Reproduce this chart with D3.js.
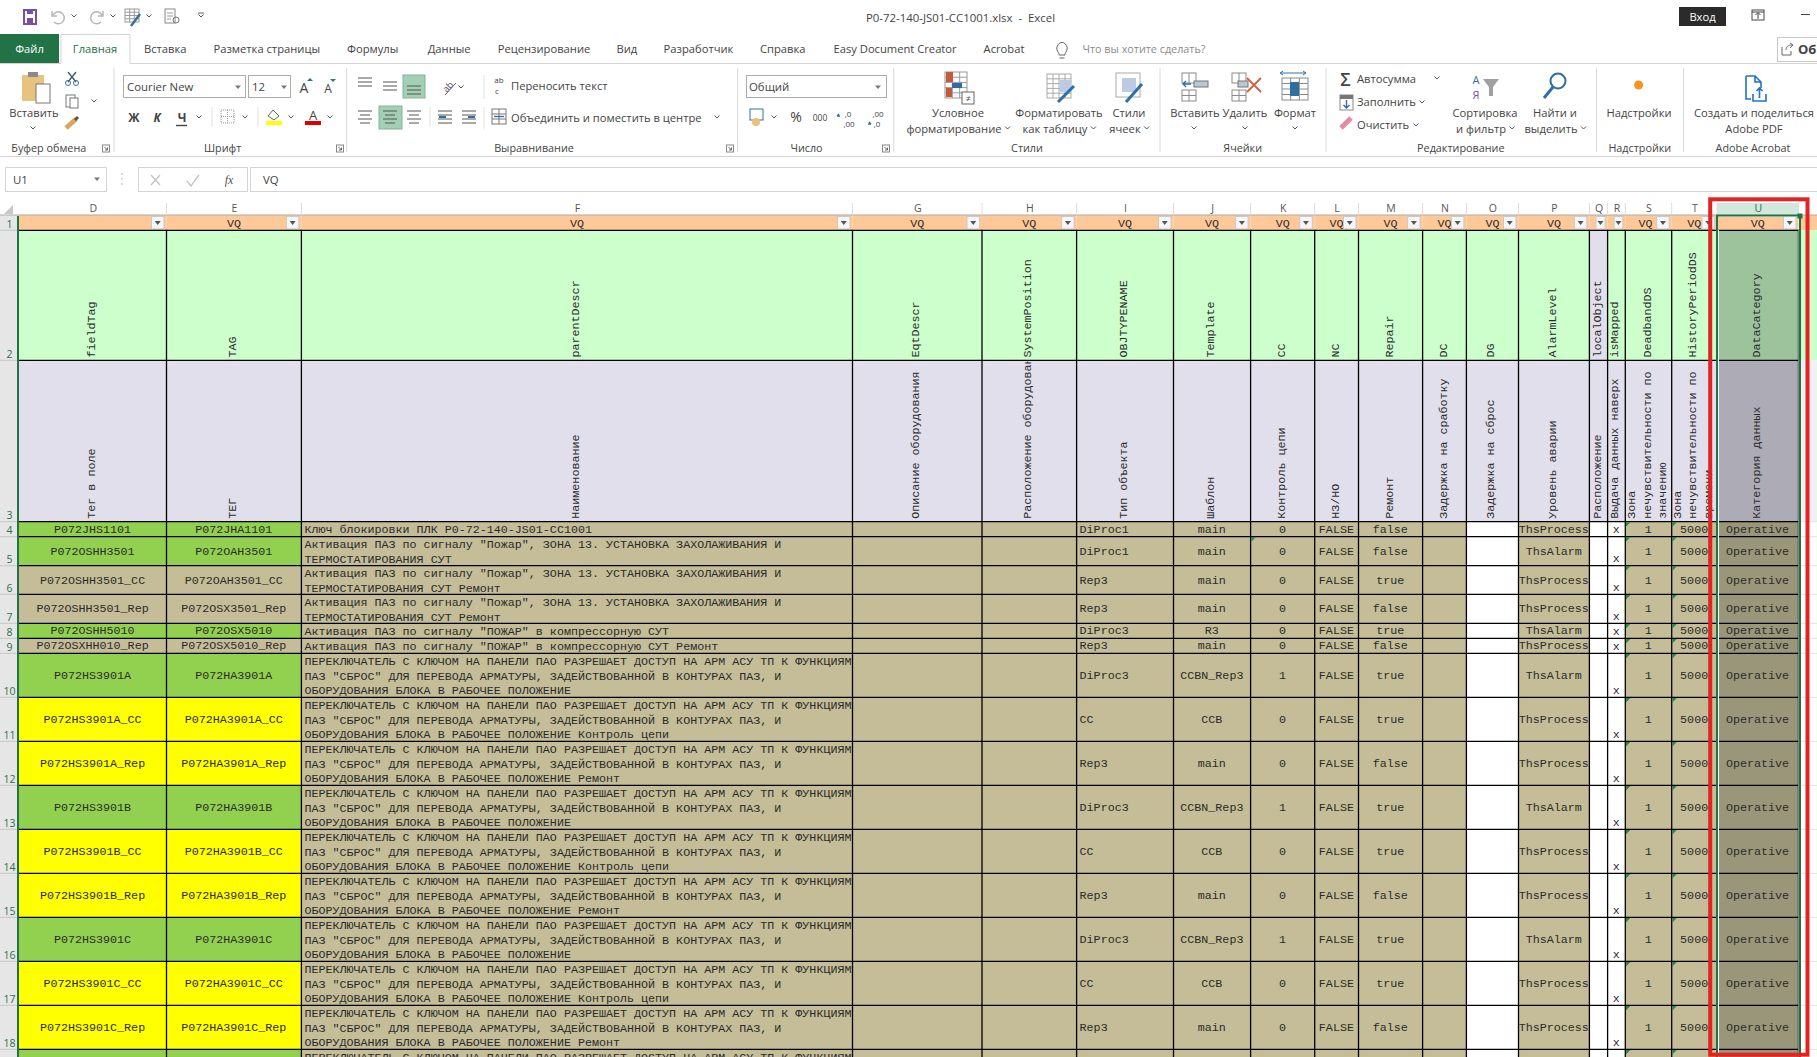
<!DOCTYPE html>
<html>
<head>
<meta charset="UTF-8">
<title>P0-72-140-JS01-CC1001.xlsx - Excel</title>
<script src="https://cdnjs.cloudflare.com/ajax/libs/d3/7.8.5/d3.min.js"></script>
<style>
body { margin: 0; background: #fff; overflow: hidden; }
svg { display: block; }
.ui { font-family: "Open Sans", sans-serif; font-size: 11.2px; fill: #444; white-space: pre; }
.mono { font-family: "Liberation Mono", monospace; font-size: 11.7px; fill: #2b2b2b; }
</style>
</head>
<body>
<script>
// sheet content
var columns = ["D","E","F","G","H","I","J","K","L","M","N","O","P","Q","R","S","T","U"];
var rowNumbers = [1,2,3,4,5,6,7,8,9,10,11,12,13,14,15,16,17,18,19];
var dataRows = [4,5,6,7,8,9,10,11,12,13,14,15,16,17,18,19];

var filterHeads = ["","VQ","VQ","VQ","VQ","VQ","VQ","VQ","VQ","VQ","VQ","VQ","VQ","","","VQ","VQ","VQ"];
var fieldNames = ["fieldTag","TAG","parentDescr","EqtDescr","SystemPosition","OBJTYPENAME","Template","CC","NC","Repair","DC","DG","AlarmLevel","localObject","isMapped","DeadbandDS","HistoryPeriodDS","DataCategory"];
var ruNames = ["Тег в поле","ТЕГ","Наименование","Описание оборудования","Расположение оборудования","Тип объекта","Шаблон","Контроль цепи","НЗ/НО","Ремонт","Задержка на сработку","Задержка на сброс","Уровень аварии","Расположение","Выдача данных наверх","Зона\nнечувствительности по\nзначению","Зона\nнечувствительности по\nвремени","Категория данных"];

var fireLine = 'Активация ПАЗ по сигналу "Пожар", ЗОНА 13. УСТАНОВКА ЗАХОЛАЖИВАНИЯ И\nТЕРМОСТАТИРОВАНИЯ СУТ';
var roomLine = 'Активация ПАЗ по сигналу "ПОЖАР" в компрессорную СУТ';
var keyFirst = 'ПЕРЕКЛЮЧАТЕЛЬ С КЛЮЧОМ НА ПАНЕЛИ ПАО РАЗРЕШАЕТ ДОСТУП НА АРМ АСУ ТП К ФУНКЦИЯМ';
var keyLine = keyFirst + '\nПАЗ "СБРОС" ДЛЯ ПЕРЕВОДА АРМАТУРЫ, ЗАДЕЙСТВОВАННОЙ В КОНТУРАХ ПАЗ, И\nОБОРУДОВАНИЯ БЛОКА В РАБОЧЕЕ ПОЛОЖЕНИЕ';

var fieldTag = ["P072JHS1101","P072OSHH3501","P072OSHH3501_CC","P072OSHH3501_Rep","P072OSHH5010","P072OSXHH010_Rep","P072HS3901A","P072HS3901A_CC","P072HS3901A_Rep","P072HS3901B","P072HS3901B_CC","P072HS3901B_Rep","P072HS3901C","P072HS3901C_CC","P072HS3901C_Rep",""];
var tagName = ["P072JHA1101","P072OAH3501","P072OAH3501_CC","P072OSX3501_Rep","P072OSX5010","P072OSX5010_Rep","P072HA3901A","P072HA3901A_CC","P072HA3901A_Rep","P072HA3901B","P072HA3901B_CC","P072HA3901B_Rep","P072HA3901C","P072HA3901C_CC","P072HA3901C_Rep",""];
var tagState = ["main","main","none","none","main","none","main","sub","sub","main","sub","sub","main","sub","sub","main"];
var parentDescr = ["Ключ блокировки ПЛК P0-72-140-JS01-CC1001", fireLine, fireLine + " Ремонт", fireLine + " Ремонт", roomLine, roomLine + " Ремонт",
  keyLine, keyLine + " Контроль цепи", keyLine + " Ремонт",
  keyLine, keyLine + " Контроль цепи", keyLine + " Ремонт",
  keyLine, keyLine + " Контроль цепи", keyLine + " Ремонт", keyFirst];
var objType = ["DiProc1","DiProc1","Rep3","Rep3","DiProc3","Rep3","DiProc3","CC","Rep3","DiProc3","CC","Rep3","DiProc3","CC","Rep3",""];
var template = ["main","main","main","main","R3","main","CCBN_Rep3","CCB","main","CCBN_Rep3","CCB","main","CCBN_Rep3","CCB","main",""];
var ccValues = ["0","0","0","0","0","0","1","0","0","1","0","0","1","0","0",""];
var ncValues = ["FALSE","FALSE","FALSE","FALSE","FALSE","FALSE","FALSE","FALSE","FALSE","FALSE","FALSE","FALSE","FALSE","FALSE","FALSE",""];
var repair = ["false","false","true","false","true","false","true","true","false","true","true","false","true","true","false",""];
var alarmLevel = ["ThsProcess","ThsAlarm","ThsProcess","ThsProcess","ThsAlarm","ThsProcess","ThsAlarm","ThsProcess","ThsProcess","ThsAlarm","ThsProcess","ThsProcess","ThsAlarm","ThsProcess","ThsProcess",""];
var isMapped = ["x","x","x","x","x","x","x","x","x","x","x","x","x","x","x",""];
var deadband = ["1","1","1","1","1","1","1","1","1","1","1","1","1","1","1",""];
var historyPeriod = ["5000","5000","5000","5000","5000","5000","5000","5000","5000","5000","5000","5000","5000","5000","5000",""];
var dataCategory = ["Operative","Operative","Operative","Operative","Operative","Operative","Operative","Operative","Operative","Operative","Operative","Operative","Operative","Operative","Operative",""];

var cellText = { D: fieldTag, E: tagName, F: parentDescr, I: objType, J: template, K: ccValues, L: ncValues, M: repair, P: alarmLevel, R: isMapped, S: deadband, T: historyPeriod, U: dataCategory };

// ribbon content
var tabNames = ["Вставка","Разметка страницы","Формулы","Данные","Рецензирование","Вид","Разработчик","Справка","Easy Document Creator","Acrobat"];
var groupNames = ["Буфер обмена","Шрифт","Выравнивание","Число","Стили","Ячейки","Редактирование","Надстройки","Adobe Acrobat"];

// layout
var colEdges = [19,166.5,301.4,852.5,982,1076.6,1173.5,1250.6,1314.7,1358.5,1422.6,1466.4,1518.5,1589.4,1607.6,1625.3,1671.7,1717,1798.5];
var rowEdges = [215,230.3,360.3,521.7,536.7,565.7,594.3,623.3,638.3,653.3,697.3,741.3,785.3,829.3,873.3,917.3,961.3,1005.3,1049.3,1093.3];
var tabX = [144,213.5,347,427.7,497.7,616.5,663.6,760,833.5,983.6];
var groupX = [48.8,222.7,534,806.5,1027,1242.7,1460.8,1639.8,1753];
var groupDividers = [114,346.7,737.7,893.8,1160,1326,1596.5,1683.6];
var launchers = [106,340,730,886];

var colLeft = d3.scaleOrdinal(columns, colEdges);
var colRight = d3.scaleOrdinal(columns, colEdges.slice(1));
var rowTop = d3.scaleOrdinal(rowNumbers, rowEdges);
var rowBottom = d3.scaleOrdinal(rowNumbers, rowEdges.slice(1));
var tabLeft = d3.scaleOrdinal(tabNames, tabX);
var groupCenter = d3.scaleOrdinal(groupNames, groupX);
var tagFill = d3.scaleOrdinal(["main","sub","none"], ["#92d050","#ffff00","#c4bd97"]);

var svg = d3.select("body").append("svg").attr("width", 1817).attr("height", 1057);
var defs = svg.append("defs");

function cellFill(col, row) {
  if (col === "U") return row === 1 ? "#ffc898" : row === 2 ? "#9dc39d" : row === 3 ? "#adabb6" : "#9a9679";
  if (row === 1) return "#ffc898";
  if (row === 2) return col === "Q" ? "#e2dfec" : "#ccffcc";
  if (row === 3) return "#e2dfec";
  if (col === "D" || col === "E") return tagFill(tagState[row - 4]);
  if (col === "O" || col === "Q" || col === "R") return "#ffffff";
  return "#c4bd97";
}

// grid ------------------------------------------------------------------
var sheet = svg.append("g");

// the empty column to the right of the frame
sheet.append("rect").attr("x", 1800).attr("y", rowTop(1)).attr("width", 17).attr("height", rowBottom(1) - rowTop(1)).attr("fill", "#ffc898");
sheet.append("rect").attr("x", 1800).attr("y", rowTop(2)).attr("width", 17).attr("height", rowBottom(2) - rowTop(2)).attr("fill", "#ccffcc");
sheet.append("rect").attr("x", 1800).attr("y", rowTop(3)).attr("width", 17).attr("height", rowBottom(3) - rowTop(3)).attr("fill", "#f3eff4");
sheet.selectAll("line.far").data(rowNumbers.slice(3)).enter().append("line").attr("class", "far")
  .attr("x1", 1800).attr("x2", 1817).attr("y1", rowTop).attr("y2", rowTop).attr("stroke", "#e6e0e0");

var cells = d3.cross(columns, rowNumbers).map(function(d) { return { col: d[0], row: d[1] }; });
sheet.selectAll("rect.cell").data(cells).enter().append("rect").attr("class", "cell")
  .attr("x", function(d) { return colLeft(d.col); })
  .attr("y", function(d) { return rowTop(d.row); })
  .attr("width", function(d) { return colRight(d.col) - colLeft(d.col); })
  .attr("height", function(d) { return rowBottom(d.row) - rowTop(d.row); })
  .attr("fill", function(d) { return cellFill(d.col, d.row); });

// column and row heading strips
sheet.append("rect").attr("x", 0).attr("y", 215).attr("width", 19).attr("height", 842).attr("fill", "#e6e6e6");
sheet.append("line").attr("x1", 0).attr("x2", 1817).attr("y1", 215).attr("y2", 215).attr("stroke", "#ababab");
sheet.append("path").attr("d", "M4 214L13 214L13 205Z").attr("fill", "#c8c8c8");
sheet.append("rect").attr("x", colLeft("U")).attr("y", 203).attr("width", colRight("U") - colLeft("U")).attr("height", 12).attr("fill", "#d2e8dc");

sheet.selectAll("line.colsep").data(columns).enter().append("line").attr("class", "colsep")
  .attr("x1", colRight).attr("x2", colRight).attr("y1", 203).attr("y2", 215).attr("stroke", "#dcdcdc");
sheet.selectAll("text.colhead").data(columns).enter().append("text").attr("class", "ui colhead")
  .attr("x", function(d) { return (colLeft(d) + colRight(d)) / 2 + 0.5; }).attr("y", 212)
  .attr("text-anchor", "middle").style("font-size", "10.5px")
  .style("fill", function(d) { return d === "U" ? "#217346" : "#555"; }).text(function(d) { return d; });

var shownRows = rowNumbers.filter(function(d) { return rowBottom(d) < 1057; });
sheet.selectAll("line.rowsep").data(shownRows).enter().append("line").attr("class", "rowsep")
  .attr("x1", 0).attr("x2", 19).attr("y1", rowBottom).attr("y2", rowBottom).attr("stroke", "#c6c6c6");
sheet.selectAll("text.rownum").data(shownRows).enter().append("text").attr("class", "ui rownum")
  .attr("x", 9.5).attr("y", function(d) { return rowBottom(d) - 2.5; })
  .attr("text-anchor", "middle").style("font-size", "10.5px").style("fill", "#2f6e4e").text(function(d) { return d; });

// filter row
sheet.selectAll("text.vq").data(columns).enter().append("text").attr("class", "mono vq")
  .attr("x", function(d) { return (colLeft(d) + colRight(d)) / 2 - (d === "S" ? 3 : 0); }).attr("y", 226.5)
  .attr("text-anchor", "middle").text(function(d, i) { return filterHeads[i]; });

function buttonWidth(col) { return Math.min(12.5, colRight(col) - colLeft(col) - 9); }
var filterBtn = sheet.selectAll("g.btn").data(columns).enter().append("g").attr("class", "btn");
filterBtn.append("rect")
  .attr("x", function(d) { return colRight(d) - 2.5 - buttonWidth(d); }).attr("y", 216.5)
  .attr("width", buttonWidth).attr("height", 12.5).attr("fill", "#f6f6f6").attr("stroke", "#c9c9c9");
filterBtn.append("path").attr("fill", "#555")
  .attr("d", function(d) { var c = colRight(d) - 2.5 - buttonWidth(d) / 2; return "M" + (c - 3) + " 221L" + (c + 3) + " 221L" + c + " 225Z"; });

// black cell borders
var lines = sheet.append("g").attr("stroke", "#000").attr("stroke-width", 1.3);
lines.selectAll("line.v").data(columns).enter().append("line").attr("class", "v")
  .attr("x1", colRight).attr("x2", colRight).attr("y1", rowTop(2) - 0.6).attr("y2", 1057);
lines.selectAll("line.h").data(rowNumbers.slice(1)).enter().append("line").attr("class", "h")
  .attr("x1", colLeft("D")).attr("x2", colRight("U")).attr("y1", rowTop).attr("y2", rowTop);

// rotated headers, clipped to their cell
function rotatedHeads(row, names, baseOffset) {
  var g = sheet.append("g");
  columns.forEach(function(col, i) {
    var id = "clip-" + col + row;
    defs.append("clipPath").attr("id", id).append("rect")
      .attr("x", colLeft(col)).attr("y", rowTop(row) + 1)
      .attr("width", colRight(col) - colLeft(col)).attr("height", rowBottom(row) - rowTop(row) - 1);
    var parts = names[i].split("\n");
    var cx = (colLeft(col) + colRight(col)) / 2 - 1;
    var cg = g.append("g").attr("clip-path", "url(#" + id + ")");
    cg.selectAll("text").data(parts).enter().append("text").attr("class", "mono")
      .attr("dominant-baseline", "central")
      .attr("transform", function(d, j) {
        return "translate(" + (cx + (j - (parts.length - 1) / 2) * 15.4) + "," + (rowBottom(row) - baseOffset) + ") rotate(-90)";
      })
      .text(function(d) { return d; });
  });
}
rotatedHeads(2, fieldNames, 2.8);
rotatedHeads(3, ruNames, 3);

// body cells
columns.forEach(function(col) {
  var values = cellText[col];
  if (!values) return;
  var wrapped = col === "F", left = col === "F" || col === "I", bottom = col === "R";
  var g = sheet.append("g").selectAll("g").data(values).enter().append("g");
  g.selectAll("text").data(function(v, i) {
    var parts = v.split("\n");
    return parts.map(function(t, j) {
      return { t: t, j: j, n: parts.length, row: dataRows[i] };
    });
  }).enter().append("text").attr("class", "mono")
    .attr("text-anchor", left ? "start" : "middle")
    .attr("dominant-baseline", "central")
    .attr("x", left ? colLeft(col) + 3 : (colLeft(col) + colRight(col)) / 2 - (col === "I" ? 0 : 0.2))
    .attr("y", function(d) {
      var top = rowTop(d.row), bot = rowBottom(d.row);
      if (wrapped) return top + 8.4 + d.j * 14.8;
      if (bottom) return bot - 6.7;
      return (top + bot) / 2 + 0.6;
    })
    .text(function(d) { return d.t; });
});

// green number-as-text flags
var flagged = dataRows.map(function(r) { return { col: "S", row: r }; })
  .concat(dataRows.map(function(r) { return { col: "T", row: r }; }))
  .concat([{ col: "K", row: 5 }]);
sheet.selectAll("path.flag").data(flagged).enter().append("path").attr("class", "flag").attr("fill", "#2c8a3e")
  .attr("d", function(d) {
    var x = colLeft(d.col) + 0.6, y = rowTop(d.row) + 0.6;
    return "M" + x + " " + y + "h4.5L" + x + " " + (y + 4.5) + "Z";
  });

// selection and frame
var selection = svg.append("g");
selection.append("path").attr("fill", "none").attr("stroke", "#fff").attr("stroke-width", 1)
  .attr("d", "M1718.5 230V1057M1799 230V1057");
selection.append("rect").attr("x", 1719).attr("y", 216).attr("width", 80).attr("height", 1).attr("fill", "#fff");
selection.append("path").attr("fill", "none").attr("stroke", "#217346").attr("stroke-width", 2)
  .attr("d", "M1717 1057V215.5H1800V1057");
selection.append("rect").attr("x", 1797.5).attr("y", 213.5).attr("width", 5).attr("height", 5).attr("fill", "#217346");
selection.append("path").attr("fill", "none").attr("stroke", "#217346").attr("stroke-width", 2)
  .attr("d", "M18 216V1057");
selection.append("rect").attr("x", 1710.2).attr("y", 199.3).attr("width", 97.3).attr("height", 855.4)
  .attr("fill", "none").attr("stroke", "#e32222").attr("stroke-width", 4);

// ribbon -----------------------------------------------------------------
var ui = svg.append("g");

function label(x, y, t, anchor, size, color, weight) {
  return ui.append("text").attr("class", "ui").attr("x", x).attr("y", y).attr("text-anchor", anchor || "start")
    .style("font-size", (size || 11.2) + "px").style("fill", color || "#444").style("font-weight", weight || 400).text(t);
}
function chev(x, y) {
  ui.append("path").attr("d", "M" + (x - 2.5) + " " + (y - 1.5) + "L" + x + " " + (y + 1) + "L" + (x + 2.5) + " " + (y - 1.5))
    .attr("fill", "none").attr("stroke", "#555").attr("stroke-width", 1);
}
function tri(x, y) {
  ui.append("path").attr("d", "M" + (x - 3) + " " + (y - 1.5) + "L" + (x + 3) + " " + (y - 1.5) + "L" + x + " " + (y + 2)).attr("fill", "#777");
}
function box(x, y, w, h, fill, stroke) {
  return ui.append("rect").attr("x", x).attr("y", y).attr("width", w).attr("height", h)
    .attr("fill", fill || "none").attr("stroke", stroke || "none");
}
function stroke(d, color, width) {
  return ui.append("path").attr("d", d).attr("fill", "none").attr("stroke", color || "#666").attr("stroke-width", width || 1);
}
function tableIcon(x, y, w, h, rows, cols, color) {
  box(x, y, w, h, "#fff", color || "#8a8a8a");
  d3.range(1, rows).forEach(function(i) { stroke("M" + x + " " + (y + i * h / rows) + "h" + w, color || "#8a8a8a"); });
  d3.range(1, cols).forEach(function(i) { stroke("M" + (x + i * w / cols) + " " + y + "v" + h, color || "#8a8a8a"); });
}
function alignLines(x, y, widths) {
  widths.forEach(function(w, i) { stroke("M" + (x - w / 2) + " " + (y + i * 4) + "h" + w, "#555"); });
}

// title bar
box(24, 10, 12, 14, "#fff", "#7a4fa3").attr("stroke-width", 2);
box(27, 10, 6, 4, "#7a4fa3");
box(27, 18, 6, 6, "#7a4fa3");
stroke("M53 15a6 6 0 1 1 1 7M52 11v5h5", "#b5b5b5", 1.4); chev(74, 16);
stroke("M102 15a6 6 0 1 0 -1 7M103 11v5h-5", "#b5b5b5", 1.4); chev(113, 16);
tableIcon(125, 9, 14, 13, 4, 3, "#9a9a9a"); stroke("M131 26L140 14", "#3a6ea5", 2.5); chev(149, 16);
box(165, 9, 10, 14, "#fff", "#888"); stroke("M167 13h6M167 16h6M167 19h4", "#999"); stroke("M173 20a3 3 0 1 0 6 0a3 3 0 1 0 -6 0", "#777");
stroke("M198 13h6", "#666"); chev(201, 16);
label(960.5, 22, "P0-72-140-JS01-CC1001.xlsx  -  Excel", "middle", 11.4, "#444");
box(1679, 7, 47, 19, "#2b2b2b");
label(1702.5, 21, "Вход", "middle", 11.2, "#fff");
box(1752, 10, 12, 10, "#fff", "#444"); stroke("M1758 19v-6M1755.5 15l2.5-2.5l2.5 2.5M1752 12h12", "#444");
stroke("M1801 14.5h9", "#444");

// tabs
box(0, 34, 59, 29, "#217346");
label(29.5, 53, "Файл", "middle", 11.2, "#fff");
stroke("M0 63.5H61V34.5H130V63.5H1817", "#d4d4d4");
label(95, 53, "Главная", "middle", 11.2, "#217346");
ui.selectAll("text.tab").data(tabNames).enter().append("text").attr("class", "ui tab")
  .attr("x", tabLeft).attr("y", 53).text(function(d) { return d; });
stroke("M1058 52a5 6 0 1 1 8 0c-1 1 -1 2 -1 3h-6c0 -1 0 -2 -1 -3zM1059.5 58h5", "#666");
label(1082.5, 53, "Что вы хотите сделать?", "start", 10.8, "#8a8a8a");
box(1777.5, 37.5, 45, 24, "#fff", "#c8c8c8");
stroke("M1782 47v8h9v-4M1786 50c0 -3 2 -5 6 -5M1790 43l3 2l-3 3", "#666");
label(1798, 54, "Об", "start", 13, "#444", 700);

// group dividers and names
stroke("M0 156.5H1817", "#d4d4d4");
ui.selectAll("line.gdiv").data(groupDividers).enter().append("line").attr("class", "gdiv")
  .attr("x1", function(d) { return d; }).attr("x2", function(d) { return d; }).attr("y1", 68).attr("y2", 152).attr("stroke", "#d8d8d8");
ui.selectAll("text.group").data(groupNames).enter().append("text").attr("class", "ui group")
  .attr("x", groupCenter).attr("y", 152).attr("text-anchor", "middle").style("font-size", "10.8px").text(function(d) { return d; });
launchers.forEach(function(x) { box(x - 3.5, 145, 7, 7, "#fff", "#888"); stroke("M" + (x - 1.5) + " " + 147 + "l3 3m0 -2.5v2.5h-2.5", "#666"); });

// clipboard group
box(22, 75, 22, 26, "#e8c27f"); box(28, 72, 10, 5, "#8a8a8a");
box(36, 84, 14, 19, "#fff", "#777");
label(34, 117, "Вставить", "middle"); chev(33, 128);
stroke("M68 82L76 72M76 82L68 72", "#44546a", 1.3);
ui.append("circle").attr("cx", 68).attr("cy", 83).attr("r", 2.5).attr("fill", "none").attr("stroke", "#2f6ea5");
ui.append("circle").attr("cx", 76).attr("cy", 83).attr("r", 2.5).attr("fill", "none").attr("stroke", "#2f6ea5");
box(66, 95, 9, 12, "#fff", "#777"); box(70, 98, 8, 10, "#fff", "#777"); chev(94, 101);
stroke("M66 128L76 119", "#d9a860", 5); stroke("M75 120l3 -3", "#555", 3);

// font group
box(123.5, 75.5, 122, 22, "#fff", "#ababab");
label(127, 90.5, "Courier New", "start", 11.4); tri(238, 87);
box(248.5, 75.5, 42, 22, "#fff", "#ababab");
label(252, 90.5, "12", "start", 11.4); tri(284, 87);
label(304, 93, "A", "middle", 14); ui.append("path").attr("d", "M307 81h6l-3 -3z").attr("fill", "#2f6ea5");
label(328, 93, "A", "middle", 12); ui.append("path").attr("d", "M330 79h6l-3 3z").attr("fill", "#2f6ea5");
label(134, 122, "Ж", "middle", 12, "#444", 700);
label(157, 122, "К", "middle", 12, "#444", 700).style("font-style", "italic");
label(182, 122, "Ч", "middle", 12, "#444", 700); stroke("M176 125.5h11", "#444", 1.4); chev(199, 117);
stroke("M212 107v20M258 107v20", "#e0e0e0");
ui.append("rect").attr("x", 221).attr("y", 110).attr("width", 13).attr("height", 13).attr("fill", "none").attr("stroke", "#999").attr("stroke-dasharray", "1 1");
stroke("M227.5 110v13M221 116.5h13", "#999").attr("stroke-dasharray", "1 1"); chev(245, 117);
stroke("M268 116l5 -6l6 6l-5 4z", "#666"); box(266, 121, 16, 4, "#ffff00"); chev(291, 117);
label(313, 120, "A", "middle", 13); box(305, 121, 16, 4, "#e00000"); chev(330, 117);

// alignment group
alignLines(365, 78, [14, 14, 14]);
alignLines(390, 82, [14, 14, 14]);
box(403, 75, 22, 23, "#a3cfb4", "#7fb596"); alignLines(414, 86, [14, 14, 14]);
label(448, 90, "ab", "middle", 9, "#555").attr("transform", "rotate(-45 448 87)");
stroke("M445 95L456 83", "#7a4fa3"); chev(461, 87);
stroke("M484 75v24M484 107v22", "#e0e0e0");
label(499, 83, "ab", "middle", 8, "#444"); label(497, 94, "c", "middle", 8, "#444");
label(511, 90, "Переносить текст");
alignLines(365, 111, [14, 10, 14, 10]);
box(379, 106, 23, 23, "#a3cfb4", "#7fb596"); alignLines(390, 111, [14, 10, 14, 10]);
alignLines(414, 111, [14, 10, 14, 10]);
stroke("M430 107v20", "#e0e0e0");
alignLines(445, 111, [14, 14, 14, 14]); stroke("M439 117h7", "#2f6ea5", 2);
alignLines(469, 111, [14, 14, 14, 14]); stroke("M468 117h7", "#2f6ea5", 2);
tableIcon(492, 109, 14, 15, 3, 2, "#777"); stroke("M494 116.5h10", "#2f6ea5", 1.3);
label(511, 122, "Объединить и поместить в центре"); chev(717, 117);

// number group
box(746.5, 75.5, 140, 22, "#fff", "#ababab");
label(749, 90.5, "Общий", "start", 11.4); tri(878, 87);
box(750, 109, 13, 11, "#fff", "#2f6ea5"); ui.append("circle").attr("cx", 756).attr("cy", 122).attr("r", 4).attr("fill", "#e8c27f"); chev(774, 117);
label(796, 122, "%", "middle", 14); label(820, 121, "000", "middle", 8.5);
label(848, 117, ",0", "middle", 8); label(849, 127, ",00", "middle", 8); stroke("M840 116h-3m0 0l2 -2", "#2f6ea5", 1.3);
label(878, 117, ",00", "middle", 8); label(877, 127, ",0", "middle", 8); stroke("M868 124h3m0 0l-2 -2", "#2f6ea5", 1.3);

// big buttons, second line with its small chevron after the text
function bigLabel(x, l1, l2, arrow) {
  label(x, 117, l1, "middle");
  if (!l2) return;
  var t = label(x - (arrow ? 4 : 0), 133, l2, "middle");
  if (arrow) chev(x - 4 + t.node().getComputedTextLength() / 2 + 6, 128);
}
tableIcon(945, 72, 22, 26, 5, 3, "#999");
box(946, 72, 7, 10, "#c55a3a"); box(952, 83, 10, 5, "#2f6ea5"); box(946, 88, 6, 9, "#c55a3a");
box(962, 92, 12, 12, "#fff", "#666"); label(968, 101.5, "≠", "middle", 9);
bigLabel(958, "Условное", "форматирование", true);
tableIcon(1047, 74, 24, 24, 5, 4, "#aaa"); box(1060, 80, 11, 12, "#bccbe4"); stroke("M1058 102L1074 86", "#2f6ea5", 3);
bigLabel(1059, "Форматировать", "как таблицу", true);
tableIcon(1116, 73, 24, 24, 1, 1, "#aaa"); box(1122, 78, 14, 14, "#bccbe4"); stroke("M1126 102L1142 84", "#2f6ea5", 3);
bigLabel(1129, "Стили", "ячеек", true);
tableIcon(1182, 73, 14, 10, 1, 2); box(1194, 81, 14, 6, "#b8c7d8", "#777"); stroke("M1191 84h-8m3 -3l-3 3l3 3", "#2f6ea5", 1.3); tableIcon(1182, 90, 14, 11, 2, 2);
bigLabel(1195, "Вставить"); chev(1194, 128);
tableIcon(1232, 73, 14, 10, 1, 2); box(1238, 81, 10, 6, "#b8c7d8", "#777"); stroke("M1247 78l14 14M1261 78l-14 14", "#d2603a", 1.8); tableIcon(1232, 90, 14, 11, 2, 2);
bigLabel(1245, "Удалить"); chev(1245, 128);
stroke("M1281 73h24M1283 71l-3 2l3 2M1303 71l3 2l-3 2", "#2f6ea5");
tableIcon(1282, 78, 26, 22, 4, 3); box(1290, 82, 9, 14, "#2f6ea5");
bigLabel(1295, "Формат"); chev(1295, 128);

// editing group
label(1345.5, 86, "Σ", "middle", 18, "#444", 600);
label(1357, 83, "Автосумма"); chev(1437, 78);
box(1340, 95, 13, 15, "#fff", "#888"); box(1340, 95, 13, 4, "#777"); stroke("M1346.5 100v8m-3 -3l3 3l3 -3", "#2f6ea5", 1.4);
label(1357, 106, "Заполнить"); chev(1422, 102);
stroke("M1341 128L1351 118", "#e88a9f", 5);
label(1357, 129, "Очистить"); chev(1416, 125);
label(1476, 84, "А", "middle", 11, "#2f6ea5");
label(1476, 99, "Я", "middle", 11, "#7a4fa3");
ui.append("path").attr("d", "M1483 79h16l-6 8v9h-4v-9z").attr("fill", "#a0a0a0");
bigLabel(1485, "Сортировка", "и фильтр", true);
ui.append("circle").attr("cx", 1558).attr("cy", 81).attr("r", 7.5).attr("fill", "none").attr("stroke", "#2f6ea5").attr("stroke-width", 2);
stroke("M1553 87L1544 98", "#2f6ea5", 3);
bigLabel(1555, "Найти и", "выделить", true);

// add-ins and acrobat
ui.append("circle").attr("cx", 1638.6).attr("cy", 85).attr("r", 4.5).attr("fill", "#f7941d");
bigLabel(1639, "Надстройки");
stroke("M1746 76h9l6 6v6M1746 76v23h5M1755 76v6h6", "#1f74c4", 1.6);
stroke("M1753 94v7h13v-7M1759.5 98v-10m-3 3l3 -3l3 3", "#1f74c4", 1.6);
bigLabel(1754, "Создать и поделиться", "Adobe PDF");

// formula bar
box(5.5, 167.5, 101, 24, "#fff", "#d4d4d4");
label(13, 184, "U1", "start", 11.4); tri(97, 179);
ui.selectAll("circle.grip").data([174, 179, 184]).enter().append("circle").attr("class", "grip")
  .attr("cx", 122).attr("cy", function(d) { return d; }).attr("r", 0.8).attr("fill", "#aaa");
box(138.5, 167.5, 109, 24, "#fff", "#d4d4d4");
stroke("M151 175l9 10M160 175l-9 10", "#c4c4c4", 1.3);
stroke("M187 181l4 5l8 -11", "#c4c4c4", 1.3);
label(229, 184, "fx", "middle", 12, "#555").style("font-style", "italic").style("font-family", "Liberation Serif");
box(250.5, 167.5, 1567, 24, "#fff", "#d4d4d4");
label(263, 184, "VQ", "start", 11.4);
</script>
</body>
</html>
